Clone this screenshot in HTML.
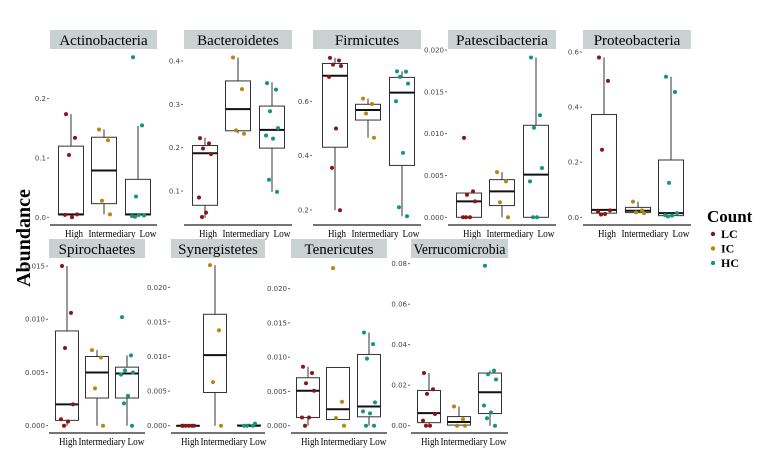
<!DOCTYPE html>
<html><head><meta charset="utf-8">
<style>
html,body{margin:0;padding:0;background:#fff;}
svg{display:block;}
.tick{font-family:"DejaVu Sans","Liberation Sans",sans-serif;font-size:7px;fill:#444;}
.strip{font-family:"Liberation Serif",serif;font-size:15px;fill:#000;}
.xl{font-family:"Liberation Serif",serif;font-size:10.5px;fill:#000;}
</style></head>
<body>
<svg id="chart" width="776" height="474" viewBox="0 0 776 474" xmlns="http://www.w3.org/2000/svg">
<text x="30" y="238" transform="rotate(-90 30 238)" text-anchor="middle" font-family="Liberation Serif,serif" font-weight="bold" font-size="20">Abundance</text>
<g>
<text x="707" y="222" font-family="Liberation Serif,serif" font-weight="bold" font-size="17">Count</text>
</g>
</svg>
<script>
// ---- data ----
const panelNames = ["Actinobacteria","Bacteroidetes","Firmicutes","Patescibacteria","Proteobacteria","Spirochaetes","Synergistetes","Tenericutes","Verrucomicrobia"];
const groups = ["High","Intermediary","Low"];
const legendLabels = ["LC","IC","HC"];
const groupColors = ["#8b1414","#b8860b","#12957a"];
// box stats per panel: [whiskerLow, q1, median, q3, whiskerHigh] for High, Intermediary, Low
const boxActino = [[0,0.004,0.005,0.12,0.174],[0.005,0.023,0.079,0.135,0.148],[0,0.004,0.005,0.064,0.154]];
const boxBactero = [[0.038,0.067,0.187,0.205,0.223],[0.233,0.239,0.289,0.354,0.408],[0.098,0.199,0.241,0.296,0.351]];
const boxFirmi = [[0.199,0.431,0.694,0.739,0.76],[0.466,0.531,0.568,0.589,0.61],[0.177,0.364,0.632,0.688,0.71]];
const boxPatesci = [[0,0,0.0019,0.0029,0.0029],[0,0.0014,0.0031,0.0045,0.0054],[0,0,0.0051,0.011,0.0191]];
const boxProteo = [[0.01,0.015,0.027,0.373,0.58],[0.015,0.017,0.024,0.036,0.057],[0.003,0.006,0.015,0.208,0.51]];
const boxSpiro = [[0,0.0005,0.002,0.0089,0.015],[0,0.0026,0.005,0.0065,0.0071],[0,0.0026,0.0049,0.0055,0.0066]];
const boxSynerg = [[0,0,0,0,0],[0,0.0048,0.0102,0.0161,0.0232],[0,0,0,0.0001,0.0003]];
const boxTeneri = [[0,0.0012,0.0051,0.007,0.0086],[0.0009,0.0009,0.0024,0.0085,0.0085],[0,0.0013,0.0028,0.0104,0.0136]];
const boxVerruco = [[0,0.0015,0.0062,0.0174,0.026],[0,0.0003,0.0018,0.0045,0.0095],[0,0.006,0.0165,0.026,0.0272]];
// jittered sample points per panel, per group
const ptsActino = [[0.174,0.134,0.105,0.005,0.004,0.0],[0.148,0.130,0.028,0.005],[0.27,0.155,0.035,0.003,0.002,0.004,0.001]];
const ptsBactero = [[0.222,0.210,0.198,0.185,0.085,0.05,0.04],[0.408,0.335,0.24,0.232],[0.349,0.334,0.284,0.245,0.228,0.221,0.126,0.098]];
const ptsFirmi = [[0.76,0.75,0.735,0.73,0.69,0.50,0.355,0.199],[0.61,0.59,0.555,0.466],[0.71,0.709,0.69,0.665,0.60,0.41,0.21,0.177]];
const ptsPatesci = [[0.0095,0.0031,0.0027,0.0019,0,0,0],[0.0054,0.0043,0.0018,0],[0.0191,0.0122,0.0107,0.0059,0.0043,0,0]];
const ptsProteo = [[0.58,0.495,0.245,0.025,0.02,0.012,0.01],[0.057,0.025,0.018,0.015],[0.51,0.455,0.125,0.015,0.008,0.006,0.003]];
const ptsSpiro = [[0.015,0.0106,0.0073,0.002,0.0006,0.0004,0],[0.0071,0.0064,0.0035,0],[0.0102,0.0066,0.0052,0.005,0.0048,0.0028,0.0021,0]];
const ptsSynerg = [[0,0,0,0,0,0],[0.0232,0.0138,0.0063,0],[0,0,0,0.0003]];
const ptsTeneri = [[0.0086,0.0077,0.0062,0.0051,0.0012,0.0012,0],[0.023,0.0035,0.0011,0],[0.0136,0.0119,0.0098,0.0034,0.0021,0.0018,0,0]];
const ptsVerruco = [[0.026,0.018,0.0157,0.0058,0.0025,0,0],[0.0095,0.0032,0,0],[0.079,0.0272,0.0255,0.0228,0.01,0.0065,0.0037,0]];
// tick values
const ticksActino = [0,0.1,0.2];
const ticksBactero = [0.1,0.2,0.3,0.4];
const ticksFirmi = [0.2,0.4,0.6];
const ticksPatesci = [0,0.005,0.01,0.015,0.02];
const ticksProteo = [0,0.2,0.4,0.6];
const ticksSpiro = [0,0.005,0.01,0.015];
const ticksSynerg = [0,0.005,0.01,0.015,0.02];
const ticksTeneri = [0,0.005,0.01,0.015,0.02];
const ticksVerruco = [0,0.02,0.04,0.06,0.08];
const tickDigits = [1,1,1,3,1,3,3,3,2];

const allBoxes=[boxActino,boxBactero,boxFirmi,boxPatesci,boxProteo,boxSpiro,boxSynerg,boxTeneri,boxVerruco];
const allPts=[ptsActino,ptsBactero,ptsFirmi,ptsPatesci,ptsProteo,ptsSpiro,ptsSynerg,ptsTeneri,ptsVerruco];
const allTicks=[ticksActino,ticksBactero,ticksFirmi,ticksPatesci,ticksProteo,ticksSpiro,ticksSynerg,ticksTeneri,ticksVerruco];

// ---- layout (pixels) ----
const layout=[
 {L:50,R:157,xs:[71,104,138],v0:0,p0:217.3,v1:0.2,p1:98.7,row:0,bw:25},
 {L:184,R:292,xs:[205,238,272],v0:0.1,p0:191,v1:0.4,p1:61,row:0,bw:25},
 {L:313,R:421,xs:[335,368,402],v0:0.2,p0:210,v1:0.6,p1:101.3,row:0,bw:25},
 {L:448,R:556,xs:[469,502,536],v0:0,p0:217.3,v1:0.02,p1:50,row:0,bw:25},
 {L:583,R:691,xs:[604,638,671],v0:0,p0:217.3,v1:0.6,p1:52,row:0,bw:25},
 {L:49,R:145,xs:[67,97,127],v0:0,p0:425.7,v1:0.015,p1:266,row:1,bw:23},
 {L:171,R:265,xs:[188,215,249],v0:0,p0:425.7,v1:0.02,p1:287.3,row:1,bw:23},
 {L:291,R:387,xs:[308,338,369],v0:0,p0:425.7,v1:0.02,p1:288.7,row:1,bw:23},
 {L:411,R:508,xs:[429,459,490],v0:0,p0:425.7,v1:0.08,p1:263.7,row:1,bw:23}
];
const rows=[{stripTop:30,axisY:225,labY:237,lab:[74,112,148]},{stripTop:239,axisY:433,labY:445,lab:[68,102,136]}];
const labW=[18,47,17];
const NS="http://www.w3.org/2000/svg";
const svg=document.getElementById('chart');
function mk(tag,attrs,parent){const e=document.createElementNS(NS,tag);for(const k in attrs)e.setAttribute(k,attrs[k]);(parent||svg).appendChild(e);return e;}
const jit=[-5,4,-2,6,-6,1,-3,5];

panelNames.forEach((name,pi)=>{
  const lay=layout[pi], r=rows[lay.row];
  const y=v=>lay.p0+(v-lay.v0)*(lay.p1-lay.p0)/(lay.v1-lay.v0);
  const g=mk('g',{});
  
  
  const st=mk('rect',{x:lay.L,y:r.stripTop,width:lay.R-lay.L,height:19,fill:'#c9d1d1'},g);
  
  
  const sa={x:(lay.L+lay.R)/2,y:r.stripTop+15,'text-anchor':'middle',class:'strip'};
  if(name.length>14){sa.textLength=92;sa.lengthAdjust='spacingAndGlyphs';}
  const stt=mk('text',sa,g);
  stt.textContent=name;
  
  
  const ax=mk('line',{x1:lay.L,x2:lay.R,y1:r.axisY,y2:r.axisY,stroke:'#222','stroke-width':1.3},g);
  
  
  allTicks[pi].forEach(t=>{
    const ty=y(t);
    const tl=mk('line',{x1:lay.L-3,x2:lay.L-1,y1:ty,y2:ty,stroke:'#444','stroke-width':0.8},g);
    
    
    const tt=mk('text',{x:lay.L-4,y:ty+2.5,'text-anchor':'end',class:'tick'},g);
    tt.textContent=t.toFixed(tickDigits[pi]);
    
    
  });
  groups.forEach((gr,gi)=>{
    const cx=lay.xs[gi], b=allBoxes[pi][gi], hw=lay.bw/2;
    const lx=lay.L+(r.lab[gi]-layout[lay.row*5].L);
    const xl=mk('text',{x:lx,y:r.labY,'text-anchor':'middle',class:'xl',textLength:labW[gi],lengthAdjust:'spacingAndGlyphs'},g);
    xl.textContent=gr;
    
    
    const w1=mk('line',{x1:cx,x2:cx,y1:y(b[0]),y2:y(b[1]),stroke:'#333','stroke-width':1},g);
    
    
    const w2=mk('line',{x1:cx,x2:cx,y1:y(b[3]),y2:y(b[4]),stroke:'#333','stroke-width':1},g);
    
    
    const bx=mk('rect',{x:cx-hw,y:y(b[3]),width:lay.bw,height:Math.max(0.5,y(b[1])-y(b[3])),fill:'#fff',stroke:'#333','stroke-width':1},g);
    
    
    const md=mk('line',{x1:cx-hw,x2:cx+hw,y1:y(b[2]),y2:y(b[2]),stroke:'#111','stroke-width':2},g);
    
    
    allPts[pi][gi].forEach((v,k)=>{
      const c=mk('circle',{cx:cx+jit[k%jit.length],cy:y(v),r:2,fill:groupColors[gi]},g);
      
      
    });
  });
});
legendLabels.forEach((lab,i)=>{
  const c=mk('circle',{cx:713,cy:234+i*14.5,r:2.2,fill:groupColors[i]});
  
  
  const t=mk('text',{x:721,y:238+i*14.5,'font-family':'Liberation Serif,serif','font-weight':'bold','font-size':12});
  t.textContent=lab;
  
  
});
</script>
</body></html>
